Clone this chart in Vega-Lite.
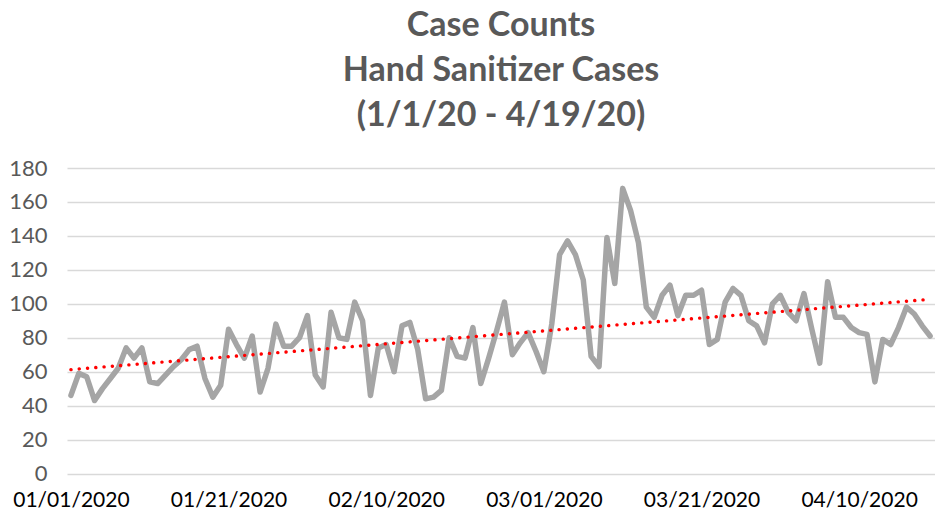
{
  "$schema": "https://vega.github.io/schema/vega-lite/v6.json",
  "autosize": {"type": "none"},
  "width": 868,
  "height": 305.5,
  "padding": {"left": 67, "top": 168, "right": 0, "bottom": 41.5},
  "background": "white",
  "title": {
    "text": ["Case Counts", "Hand Sanitizer Cases", "(1/1/20 - 4/19/20)"],
    "font": "Lato",
    "fontSize": 34,
    "fontWeight": "bold",
    "color": "#595959",
    "lineHeight": 45,
    "anchor": "middle",
    "offset": 24
  },
  "data": {
    "format": {"parse": {"date": "date"}},
    "values": [
      {"date": "2020-01-01", "cases": 46},
      {"date": "2020-01-02", "cases": 59},
      {"date": "2020-01-03", "cases": 57},
      {"date": "2020-01-04", "cases": 43},
      {"date": "2020-01-05", "cases": 50},
      {"date": "2020-01-06", "cases": 56},
      {"date": "2020-01-07", "cases": 62},
      {"date": "2020-01-08", "cases": 74},
      {"date": "2020-01-09", "cases": 68},
      {"date": "2020-01-10", "cases": 74},
      {"date": "2020-01-11", "cases": 54},
      {"date": "2020-01-12", "cases": 53},
      {"date": "2020-01-13", "cases": 58},
      {"date": "2020-01-14", "cases": 63},
      {"date": "2020-01-15", "cases": 67},
      {"date": "2020-01-16", "cases": 73},
      {"date": "2020-01-17", "cases": 75},
      {"date": "2020-01-18", "cases": 56},
      {"date": "2020-01-19", "cases": 45},
      {"date": "2020-01-20", "cases": 52},
      {"date": "2020-01-21", "cases": 85},
      {"date": "2020-01-22", "cases": 76},
      {"date": "2020-01-23", "cases": 68},
      {"date": "2020-01-24", "cases": 81},
      {"date": "2020-01-25", "cases": 48},
      {"date": "2020-01-26", "cases": 62},
      {"date": "2020-01-27", "cases": 88},
      {"date": "2020-01-28", "cases": 75},
      {"date": "2020-01-29", "cases": 75},
      {"date": "2020-01-30", "cases": 80},
      {"date": "2020-01-31", "cases": 93},
      {"date": "2020-02-01", "cases": 58},
      {"date": "2020-02-02", "cases": 51},
      {"date": "2020-02-03", "cases": 95},
      {"date": "2020-02-04", "cases": 80},
      {"date": "2020-02-05", "cases": 79},
      {"date": "2020-02-06", "cases": 101},
      {"date": "2020-02-07", "cases": 90},
      {"date": "2020-02-08", "cases": 46},
      {"date": "2020-02-09", "cases": 74},
      {"date": "2020-02-10", "cases": 76},
      {"date": "2020-02-11", "cases": 60},
      {"date": "2020-02-12", "cases": 87},
      {"date": "2020-02-13", "cases": 89},
      {"date": "2020-02-14", "cases": 73},
      {"date": "2020-02-15", "cases": 44},
      {"date": "2020-02-16", "cases": 45},
      {"date": "2020-02-17", "cases": 49},
      {"date": "2020-02-18", "cases": 80},
      {"date": "2020-02-19", "cases": 69},
      {"date": "2020-02-20", "cases": 68},
      {"date": "2020-02-21", "cases": 86},
      {"date": "2020-02-22", "cases": 53},
      {"date": "2020-02-23", "cases": 68},
      {"date": "2020-02-24", "cases": 84},
      {"date": "2020-02-25", "cases": 101},
      {"date": "2020-02-26", "cases": 70},
      {"date": "2020-02-27", "cases": 77},
      {"date": "2020-02-28", "cases": 83},
      {"date": "2020-02-29", "cases": 72},
      {"date": "2020-03-01", "cases": 60},
      {"date": "2020-03-02", "cases": 88},
      {"date": "2020-03-03", "cases": 129},
      {"date": "2020-03-04", "cases": 137},
      {"date": "2020-03-05", "cases": 129},
      {"date": "2020-03-06", "cases": 114},
      {"date": "2020-03-07", "cases": 69},
      {"date": "2020-03-08", "cases": 63},
      {"date": "2020-03-09", "cases": 139},
      {"date": "2020-03-10", "cases": 112},
      {"date": "2020-03-11", "cases": 168},
      {"date": "2020-03-12", "cases": 155},
      {"date": "2020-03-13", "cases": 136},
      {"date": "2020-03-14", "cases": 98},
      {"date": "2020-03-15", "cases": 92},
      {"date": "2020-03-16", "cases": 105},
      {"date": "2020-03-17", "cases": 111},
      {"date": "2020-03-18", "cases": 93},
      {"date": "2020-03-19", "cases": 105},
      {"date": "2020-03-20", "cases": 105},
      {"date": "2020-03-21", "cases": 108},
      {"date": "2020-03-22", "cases": 76},
      {"date": "2020-03-23", "cases": 79},
      {"date": "2020-03-24", "cases": 101},
      {"date": "2020-03-25", "cases": 109},
      {"date": "2020-03-26", "cases": 105},
      {"date": "2020-03-27", "cases": 90},
      {"date": "2020-03-28", "cases": 87},
      {"date": "2020-03-29", "cases": 77},
      {"date": "2020-03-30", "cases": 100},
      {"date": "2020-03-31", "cases": 105},
      {"date": "2020-04-01", "cases": 95},
      {"date": "2020-04-02", "cases": 90},
      {"date": "2020-04-03", "cases": 106},
      {"date": "2020-04-04", "cases": 85},
      {"date": "2020-04-05", "cases": 65},
      {"date": "2020-04-06", "cases": 113},
      {"date": "2020-04-07", "cases": 92},
      {"date": "2020-04-08", "cases": 92},
      {"date": "2020-04-09", "cases": 86},
      {"date": "2020-04-10", "cases": 83},
      {"date": "2020-04-11", "cases": 82},
      {"date": "2020-04-12", "cases": 54},
      {"date": "2020-04-13", "cases": 79},
      {"date": "2020-04-14", "cases": 76},
      {"date": "2020-04-15", "cases": 86},
      {"date": "2020-04-16", "cases": 98},
      {"date": "2020-04-17", "cases": 94},
      {"date": "2020-04-18", "cases": 87},
      {"date": "2020-04-19", "cases": 81}
    ]
  },
  "config": {
    "view": {"stroke": null},
    "font": "Lato"
  },
  "encoding": {
    "x": {
      "field": "date",
      "type": "temporal",
      "title": null,
      "scale": {
        "type": "utc",
        "domain": [
          {"year": 2019, "month": 12, "date": 31, "hours": 12, "utc": true},
          {"year": 2020, "month": 4, "date": 19, "hours": 15, "utc": true}
        ]
      },
      "axis": {
        "values": [
          {"year": 2020, "month": 1, "date": 1, "utc": true},
          {"year": 2020, "month": 1, "date": 21, "utc": true},
          {"year": 2020, "month": 2, "date": 10, "utc": true},
          {"year": 2020, "month": 3, "date": 1, "utc": true},
          {"year": 2020, "month": 3, "date": 21, "utc": true},
          {"year": 2020, "month": 4, "date": 10, "utc": true}
        ],
        "format": "%m/%d/%Y",
        "grid": false,
        "domain": false,
        "ticks": false,
        "labelFont": "Lato",
        "labelFontSize": 21,
        "labelColor": "#000000",
        "labelPadding": 16,
        "labelFlush": false,
        "labelOverlap": false
      }
    },
    "y": {
      "field": "cases",
      "type": "quantitative",
      "title": null,
      "scale": {"domain": [0, 180], "nice": false, "zero": true},
      "axis": {
        "values": [0, 20, 40, 60, 80, 100, 120, 140, 160, 180],
        "domain": false,
        "ticks": false,
        "grid": true,
        "gridColor": "#D9D9D9",
        "gridWidth": 1.5,
        "labelFont": "Lato",
        "labelFontSize": 22,
        "labelColor": "#595959",
        "labelPadding": 20
      }
    }
  },
  "layer": [
    {
      "mark": {"type": "line", "color": "#A5A5A5", "strokeWidth": 5.5, "strokeJoin": "round", "strokeCap": "round"}
    },
    {
      "transform": [{"regression": "cases", "on": "date"}],
      "mark": {"type": "line", "color": "#FF0000", "strokeWidth": 3.4, "strokeDash": [0.1, 8.2], "strokeCap": "round"}
    }
  ]
}
